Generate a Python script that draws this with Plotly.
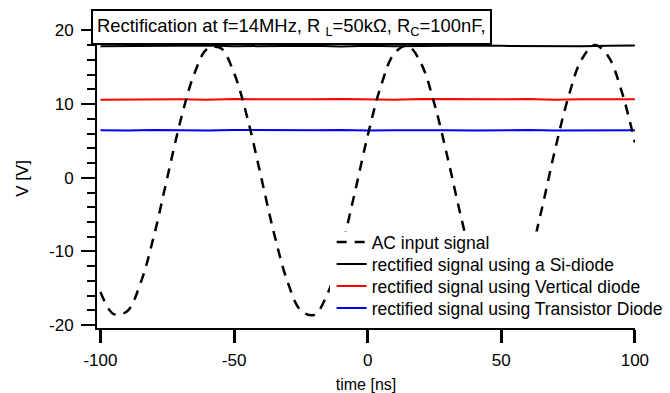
import plotly.graph_objects as go

# AC input signal, time in ns, voltage in V
ac_time = [-100, -95, -90, -85, -80, -75, -70, -65, -60, -55, -50, -45, -40, -35, -30,
           -25, -20, -15, -10, -5, 0, 5, 10, 15, 20, 25, 30, 35, 40, 45, 50, 55, 60,
           65, 70, 75, 80, 85, 90, 95, 100]
ac_volt = [-15.5, -18.5, -18.1, -14.3, -7.9, 0.0, 7.8, 14.0, 17.5, 17.6, 14.2, 8.1, 0.3,
           -7.6, -14.1, -18.0, -18.6, -15.7, -9.9, -2.3, 5.7, 12.5, 16.9, 17.9, 15.5, 10.0,
           2.6, -5.4, -12.5, -17.2, -18.8, -16.8, -11.8, -4.5, 3.6, 10.8, 16.0, 18.0, 16.5,
           11.8, 4.8]

# rectified outputs (nearly constant, small noise)
dc_time = [-100, -90, -80, -70, -60, -50, -40, -30, -20, -10, 0, 10, 20, 30, 40, 50,
           60, 70, 80, 90, 100]
si_volt = [17.85, 17.9, 17.85, 17.9, 17.95, 17.85, 17.9, 17.85, 17.9, 17.8, 17.9, 17.85,
           17.9, 17.85, 17.95, 17.9, 17.85, 17.9, 17.85, 17.9, 17.95]
vert_volt = [10.6, 10.65, 10.7, 10.65, 10.6, 10.7, 10.65, 10.6, 10.65, 10.7, 10.65, 10.6,
             10.7, 10.65, 10.6, 10.65, 10.7, 10.6, 10.65, 10.7, 10.65]
trans_volt = [6.45, 6.4, 6.5, 6.45, 6.4, 6.5, 6.45, 6.4, 6.45, 6.5, 6.4, 6.45, 6.5, 6.45,
              6.4, 6.45, 6.5, 6.4, 6.45, 6.5, 6.45]

x_tickvals = [-100, -50, 0, 50, 100]
x_ticktext = ["-100", "-50", "0", "50", "100"]
y_tickvals = [-20, -10, 0, 10, 20]
y_ticktext = ["-20", "-10", "0", "10", "20"]

names = ["AC input signal", "rectified signal using a Si-diode",
         "rectified signal using Vertical diode", "rectified signal using Transistor Diode"]
title_text = "Rectification at f=14MHz, R <sub>L</sub>=50kΩ, R<sub>C</sub>=100nF,"
x_title = "time [ns]"
y_title = "V [V]"

FONT = "Liberation Sans, Arial, Helvetica, sans-serif"

fig = go.Figure()
fig.add_trace(go.Scatter(x=dc_time, y=si_volt, mode="lines", name=names[1],
                         line=dict(color="black", width=2), legend="legend2"))
fig.add_trace(go.Scatter(x=dc_time, y=vert_volt, mode="lines", name=names[2],
                         line=dict(color="#ff0000", width=2), legend="legend3"))
fig.add_trace(go.Scatter(x=dc_time, y=trans_volt, mode="lines", name=names[3],
                         line=dict(color="#0000ff", width=2), legend="legend4"))
fig.add_trace(go.Scatter(x=ac_time, y=ac_volt, mode="lines", name=names[0],
                         line=dict(color="black", width=2.5, dash="10px,8px",
                                   shape="spline", smoothing=1), legend="legend"))


def legend_box(ytop):
    return dict(xref="container", yref="container", x=0.495, y=ytop,
                xanchor="left", yanchor="top", bgcolor="rgba(0,0,0,0)",
                borderwidth=0, font=dict(size=17.5), itemwidth=30)


fig.update_layout(
    width=670, height=393,
    margin=dict(l=97, r=35, t=23, b=65, pad=0, autoexpand=False),
    paper_bgcolor="white", plot_bgcolor="white",
    font=dict(family=FONT, size=16, color="black"),
    showlegend=True,
    legend=legend_box(0.430),
    legend2=legend_box(0.374),
    legend3=legend_box(0.318),
    legend4=legend_box(0.262),
    xaxis=dict(range=[-101.3, 100.05], tickmode="array", tickvals=x_tickvals,
               ticktext=x_ticktext, automargin=False,
               showgrid=False, zeroline=False, showline=True, linecolor="black",
               linewidth=2, ticks="outside", ticklen=13, tickwidth=3, tickcolor="black",
               tickfont=dict(size=17), ticklabelstandoff=3,
               title=dict(text=x_title, font=dict(size=16), standoff=10)),
    yaxis=dict(range=[-20.38, 21], tickmode="array", tickvals=y_tickvals,
               ticktext=y_ticktext, automargin=False,
               showgrid=False, zeroline=False, showline=True, linecolor="black",
               linewidth=2, ticks="outside", ticklen=14, tickwidth=2, tickcolor="black",
               tickfont=dict(size=17), ticklabelstandoff=4,
               minor=dict(tickmode="linear", tick0=-20, dtick=2, ticks="outside",
                          ticklen=8, tickwidth=2, tickcolor="black", showgrid=False)),
)

# white legend background covering the plot behind the legend entries
fig.add_shape(type="rect", xref="paper", yref="paper", x0=0.433, x1=1.0,
              y0=0.012, y1=0.316, fillcolor="white", line=dict(width=0), layer="above")

# y-axis title placed as rotated text
fig.add_annotation(
    xref="paper", yref="paper", x=-0.139, y=0.49, xanchor="center", yanchor="middle",
    text=y_title, textangle=-90, showarrow=False, font=dict(size=17, color="black"),
)

fig.add_annotation(
    xref="paper", yref="paper", x=-0.011, y=1.047, xanchor="left", yanchor="top",
    text=title_text, showarrow=False, font=dict(size=18.4, color="black"),
    bgcolor="white", bordercolor="black", borderwidth=2, borderpad=4,
)

fig.write_html("out.html", config={"displayModeBar": False},
               post_script="document.body.style.margin='0px';")
